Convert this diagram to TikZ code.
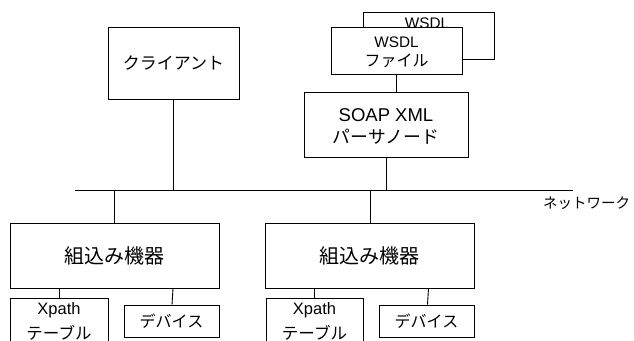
\documentclass[tikz,border=0pt]{standalone}
\usepackage{fontspec}
\setmainfont{Liberation Sans}
\newfontfamily\jp{Noto Sans CJK JP}
\tikzset{
  box/.style={draw, line width=0.9pt, fill=white, rectangle, inner sep=0pt, align=center},
  wire/.style={line width=0.9pt},
}
\newcommand{\fs}[1]{\fontsize{#1}{#1}\selectfont}
\begin{document}
\begin{tikzpicture}[x=1pt,y=-1pt]
\useasboundingbox (0,0) rectangle (634,340);
\clip (0,0) rectangle (634,340);
% network
\coordinate (netL) at (75,190);
\coordinate (netR) at (573,190);
\draw[wire] (netL) -- (netR);
\node[anchor=center] (netlabel) at (586.5,203) {\jp\fs{14.5}ネットワーク};
% client
\node[box, minimum width=131pt, minimum height=72pt] (client) at (173.5,63) {\jp\fs{17}クライアント};
% WSDL files
\node[box, minimum width=131pt, minimum height=47pt] (wsdlb) at (428.5,35.5) {};
\node (wsdlbtext) at (427,23) {\fs{15.3}WSDL};
\node[box, minimum width=131pt, minimum height=47pt] (wsdlf) at (396.5,50.5) {};
\node (wsdlft1) at (396.5,42) {\fs{15.3}WSDL};
\node (wsdlft2) at (396.5,61) {\jp\fs{16}ファイル};
% SOAP
\node[box, minimum width=164pt, minimum height=65pt] (soap) at (386,124.5) {};
\node (soapt1) at (386,115) {\fs{18.5}SOAP XML};
\node (soapt2) at (386,137) {\jp\fs{17.8}パーサノード};
% embedded devices
\node[box, minimum width=209pt, minimum height=65pt] (emb1) at (114.5,255.5) {\jp\fs{20}組込み機器};
\node[box, minimum width=209pt, minimum height=65pt] (emb2) at (369.5,255.5) {\jp\fs{20}組込み機器};
% xpath tables
\node[box, minimum width=98pt, minimum height=60pt] (xp1) at (59,328) {};
\node (xp1t1) at (59,310) {\fs{16.5}Xpath};
\node (xp1t2) at (59,333) {\jp\fs{16.5}テーブル};
\node[box, minimum width=97pt, minimum height=60pt] (xp2) at (314.5,328) {};
\node (xp2t1) at (314.5,310) {\fs{16.5}Xpath};
\node (xp2t2) at (314.5,333) {\jp\fs{16.5}テーブル};
% devices
\node[box, minimum width=95pt, minimum height=32pt] (dev1) at (171.5,321) {\jp\fs{16}デバイス};
\node[box, minimum width=95pt, minimum height=32pt] (dev2) at (426.5,321) {\jp\fs{16}デバイス};
% connectors
\draw[wire] (client.south) -- (client.south |- netL);
\draw[wire] (wsdlf.south) -- (wsdlf.south |- soap.north);
\draw[wire] (soap.south) -- (soap.south |- netL);
\draw[wire] (emb1.north |- netL) -- (emb1.north);
\draw[wire] ([xshift=0.5pt]emb2.north |- netL) -- ([xshift=0.5pt]emb2.north);
\draw[wire] (xp1.north |- emb1.south) -- (xp1.north);
\draw[wire] (xp2.north |- emb2.south) -- (xp2.north);
\draw[wire] ([xshift=1.5pt]dev1.north |- emb1.south) -- ([xshift=0.5pt]dev1.north);
\draw[wire] ([xshift=2pt]dev2.north |- emb2.south) -- ([xshift=1pt]dev2.north);
\end{tikzpicture}
\end{document}
